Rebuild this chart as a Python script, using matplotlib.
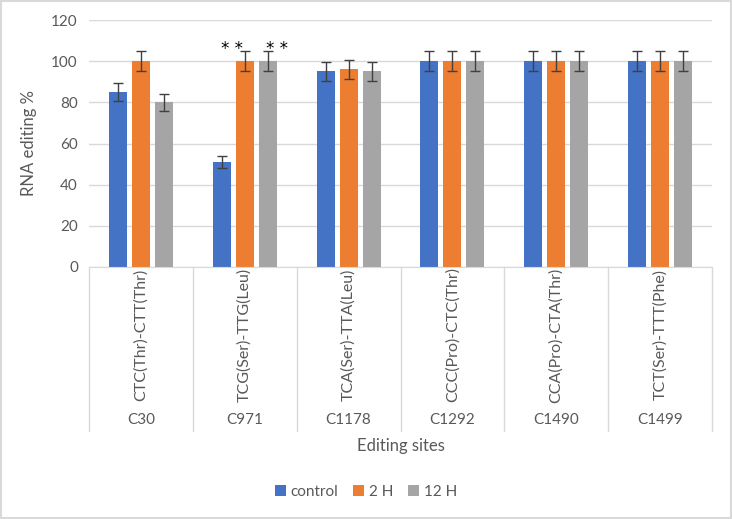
import numpy as np
import matplotlib.pyplot as plt

# data
sites = ["C30", "C971", "C1178", "C1292", "C1490", "C1499"]
codons = ["CTC(Thr)-CTT(Thr)", "TCG(Ser)-TTG(Leu)", "TCA(Ser)-TTA(Leu)",
          "CCC(Pro)-CTC(Thr)", "CCA(Pro)-CTA(Thr)", "TCT(Ser)-TTT(Phe)"]
series = ["control", "2 H", "12 H"]
control = [85, 51, 95, 100, 100, 100]
h2 = [100, 100, 96, 100, 100, 100]
h12 = [80, 100, 95, 100, 100, 100]
control_err = [4.3, 2.7, 4.8, 5, 5, 5]
h2_err = [5, 5, 4.8, 5, 5, 5]
h12_err = [4, 5, 4.8, 5, 5, 5]
# significance marks: (site index, series index)
stars = [(1, 1), (1, 2)]

colors = ["#4472C4", "#ED7D31", "#A5A5A5"]
txt = "#595959"
grid = "#D9D9D9"
plt.rcParams['font.family'] = ['Lato', 'DejaVu Sans']

fig = plt.figure(figsize=(7.32, 5.19), dpi=100)
ax = fig.add_axes([89/732, 1-267/519, 623/732, 247/519])

x = np.arange(len(sites))
step = 0.222
width = 0.173
vals = [control, h2, h12]
errs = [control_err, h2_err, h12_err]
for k in range(3):
    ax.bar(x + (k-1)*step, vals[k], width, color=colors[k], label=series[k], zorder=2)
    ax.errorbar(x + (k-1)*step, vals[k], yerr=errs[k], fmt='none', ecolor='#404040',
                elinewidth=1, capsize=3.5, capthick=1, zorder=3)

# ** marks
shifts = {1: -0.12, 2: 0.085}
for i, k in stars:
    top = vals[k][i] + errs[k][i]
    ax.text(x[i] + (k-1)*step + shifts[k], top + 1, "* *", ha='center', va='center',
            fontsize=12, color='black', family='DejaVu Sans')

ax.set_xlim(-0.5, len(sites)-0.5)
ax.set_ylim(0, 120)
ax.set_yticks(range(0, 121, 20))
ax.yaxis.grid(True, color=grid, linewidth=1, zorder=0)
ax.set_axisbelow(True)
for s in ['top', 'right', 'left']:
    ax.spines[s].set_visible(False)
ax.spines['bottom'].set_color(grid)
ax.tick_params(axis='y', length=0, labelcolor=txt, labelsize=11, pad=8)
ax.tick_params(axis='x', length=0, labelbottom=False)

# multi-level category axis
h = 247.0
sep_bottom = -(431-267)/h
for b in np.arange(-0.5, len(sites), 1.0):
    ax.plot([b, b], [0, sep_bottom], transform=ax.get_xaxis_transform(),
            color=grid, linewidth=1, clip_on=False)
for i in range(len(sites)):
    ax.text(x[i], -(335-267)/h, codons[i], rotation=90, ha='center', va='center',
            transform=ax.get_xaxis_transform(), color=txt, fontsize=11.5)
    ax.text(x[i], -(420-267)/h, sites[i], ha='center', va='center',
            transform=ax.get_xaxis_transform(), color=txt, fontsize=11)
ax.text(0.5, -(446-267)/h, "Editing sites", ha='center', va='center',
        transform=ax.transAxes, color=txt, fontsize=12)
ax.set_ylabel("RNA editing %", color=txt, fontsize=12, labelpad=10)

fig.legend(loc='center', bbox_to_anchor=(0.5, 1-492/519), ncol=3, frameon=False,
           fontsize=11, labelcolor=txt, handlelength=0.7, handleheight=0.7,
           handletextpad=0.3, columnspacing=1.0)

# outer chart border
fig.patches.append(plt.Rectangle((0.001, 0.002), 0.997, 0.996, transform=fig.transFigure,
                                 fill=False, edgecolor=grid, linewidth=1.5))

fig.savefig("out.png", dpi=100)
